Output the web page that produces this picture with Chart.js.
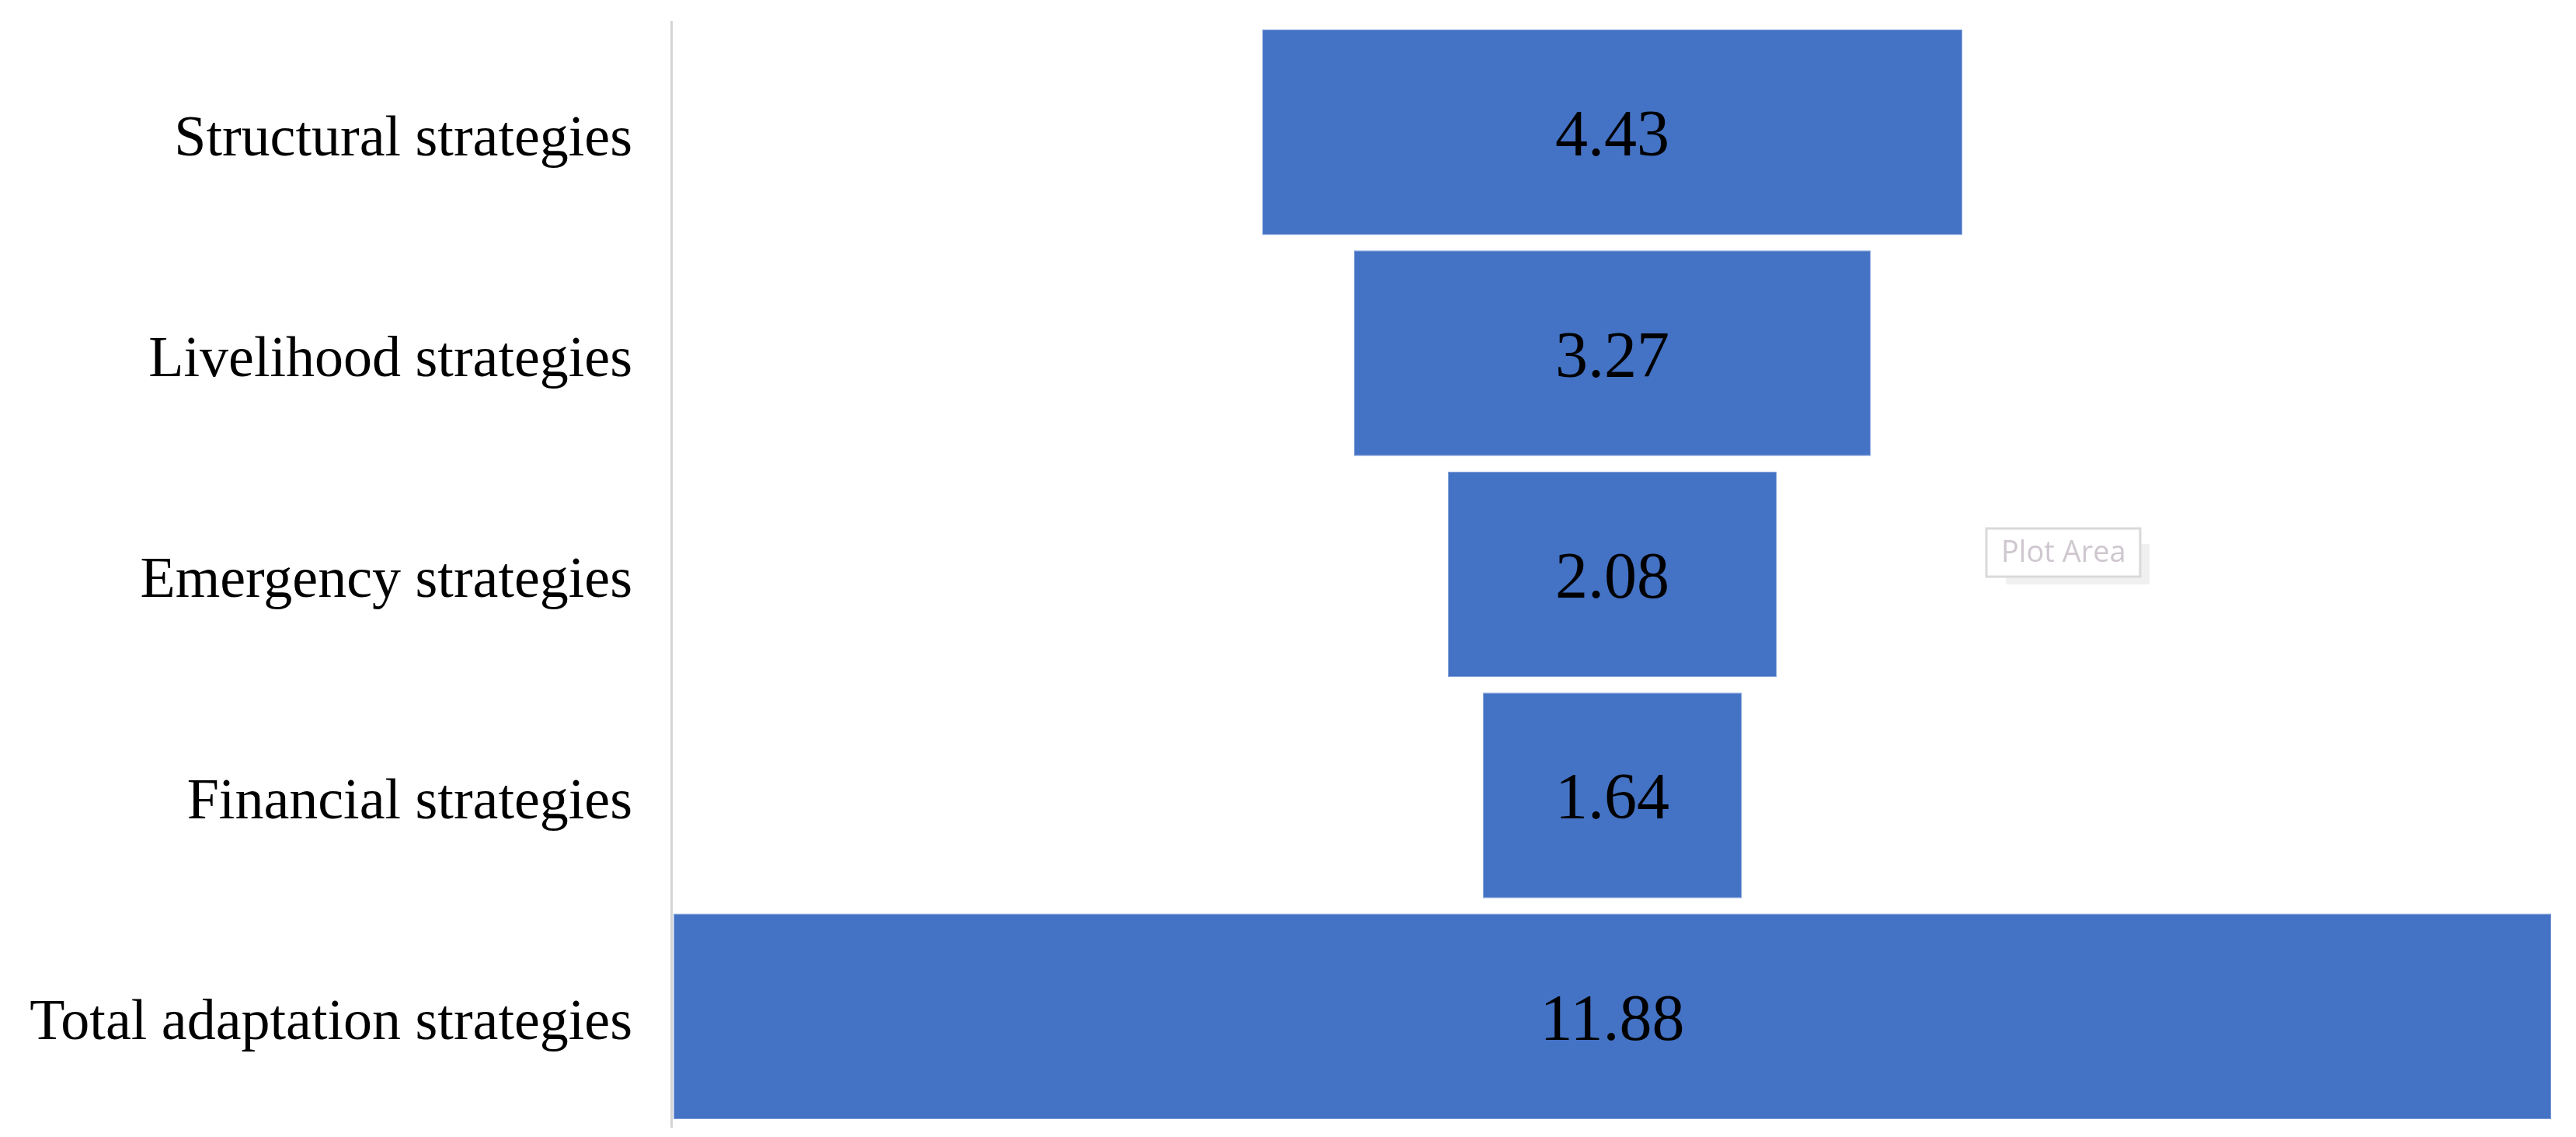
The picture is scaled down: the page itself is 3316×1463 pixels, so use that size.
<!DOCTYPE html>
<html>
<head>
<meta charset="utf-8">
<script src="https://cdn.jsdelivr.net/npm/chart.js@4/dist/chart.umd.min.js"></script>
<style>
  body { margin: 0; background: #fff; }
  #wrap { width: 3316px; height: 1463px; position: relative; }
</style>
</head>
<body>
<div id="wrap"><canvas id="mychart"></canvas></div>
<script>
// funnel values, top to bottom
const categories = ['Structural strategies', 'Livelihood strategies', 'Emergency strategies', 'Financial strategies', 'Total adaptation strategies']
const values = [4.43, 3.27, 2.08, 1.64, 11.88]
const valueLabels = ['4.43', '3.27', '2.08', '1.64', '11.88']

const maxVal = Math.max(...values)
const mid = maxVal / 2
// each bar is centred on the middle of the scale
const ranges = values.map(v => [mid - v / 2, mid + v / 2])

// writes the value in the middle of every bar
const barText = {
    id: 'barText',
    afterDatasetsDraw(chart) {
        const ctx = chart.ctx
        const meta = chart.getDatasetMeta(0)
        ctx.save()
        ctx.font = '84px "Liberation Serif"'
        ctx.fillStyle = '#000'
        ctx.textAlign = 'center'
        ctx.textBaseline = 'middle'
        meta.data.forEach((bar, i) => {
            ctx.fillText(valueLabels[i], (bar.x + bar.base) / 2, bar.y + 8)
        })
        ctx.restore()
    }
}

// the little "Plot Area" hover box left in the original screenshot
const plotAreaBox = {
    id: 'plotAreaBox',
    afterDraw(chart) {
        const ctx = chart.ctx
        ctx.save()
        ctx.fillStyle = 'rgba(0,0,0,0.06)'
        ctx.fillRect(2582, 700, 185, 52)
        ctx.fillStyle = '#fff'
        ctx.fillRect(2557, 680, 198, 62)
        ctx.strokeStyle = '#d9d9d9'
        ctx.lineWidth = 3
        ctx.strokeRect(2557, 680, 198, 62)
        ctx.font = '38px "Open Sans"'
        ctx.fillStyle = '#cfc7cf'
        ctx.textBaseline = 'middle'
        ctx.fillText('Plot Area', 2576, 712)
        ctx.restore()
    }
}

const ctx = document.getElementById('mychart').getContext('2d')
const chart = new Chart(ctx, {
    type: 'bar',
    data: {
        labels: categories,
        datasets: [{
            data: ranges,
            backgroundColor: '#4472C4',
            borderColor: '#7e9fd9',
            borderWidth: 1,
            borderSkipped: false,
            categoryPercentage: 1,
            barPercentage: 0.93
        }]
    },
    options: {
        indexAxis: 'y',
        responsive: true,
        maintainAspectRatio: false,
        animation: false,
        layout: { padding: { left: 0, right: 32, top: 28, bottom: 13 } },
        plugins: {
            legend: { display: false },
            tooltip: { enabled: false }
        },
        scales: {
            x: {
                display: false,
                min: -0.015,
                max: maxVal
            },
            y: {
                afterFit: s => {
                    s.width = 864
                    s.paddingTop = 0
                    s.paddingBottom = 0
                },
                grid: { display: false, drawTicks: false },
                border: { display: true, color: '#d4d4d4', width: 3 },
                ticks: {
                    padding: 50,
                    labelOffset: 10,
                    color: '#000',
                    font: { family: '"Liberation Serif"', size: 74 }
                }
            }
        }
    },
    plugins: [barText, plotAreaBox]
})
</script>
</body>
</html>
